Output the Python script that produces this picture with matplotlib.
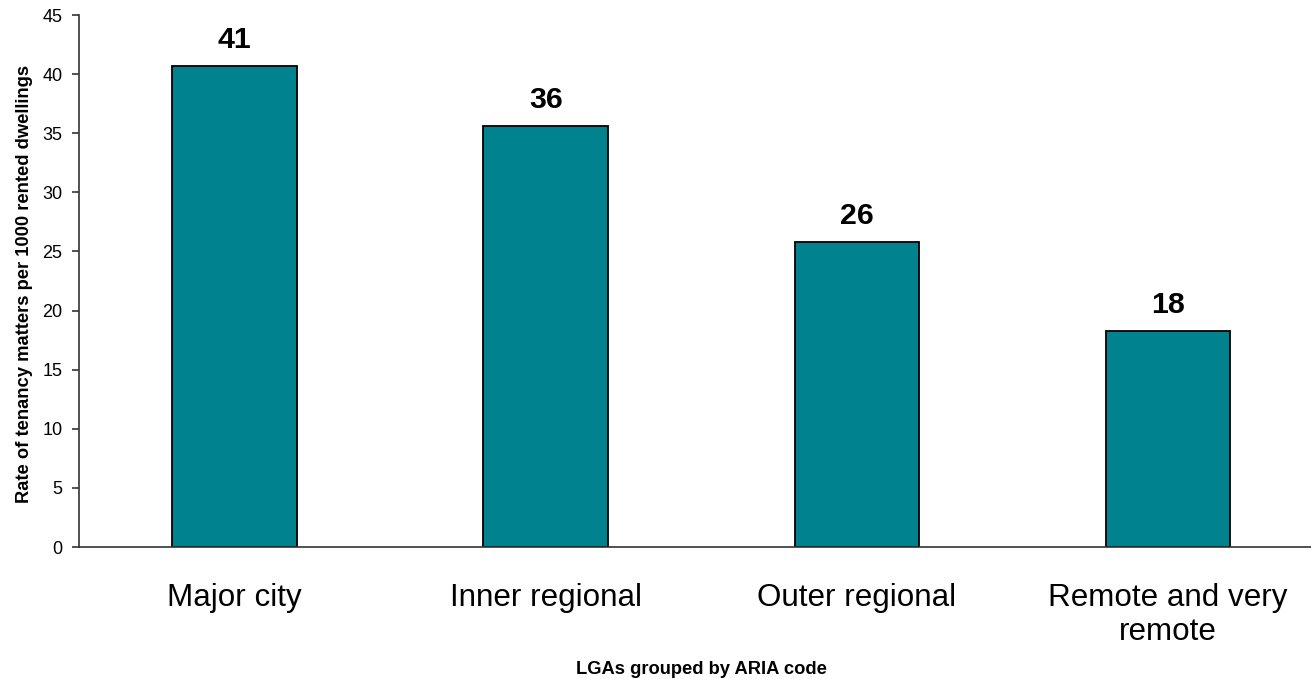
import matplotlib
matplotlib.use("Agg")
import matplotlib.pyplot as plt

categories = ["Major city", "Inner regional", "Outer regional", "Remote and very\nremote"]
rates = [40.7, 35.6, 25.8, 18.3]
rate_labels = ["41", "36", "26", "18"]

plt.rcParams['font.family'] = ['Liberation Sans', 'DejaVu Sans']

fig = plt.figure(figsize=(13.11, 6.79), dpi=100)
ax = fig.add_axes([79 / 1311, 1 - 547 / 679, (1311 - 79) / 1311, (547 - 15) / 679])

x = range(len(categories))
bars = ax.bar(x, rates, width=0.4, color='#00828F', edgecolor='black', linewidth=1.3)

# valeurs au-dessus des barres
for rect, lab in zip(bars, rate_labels):
    ax.annotate(lab, (rect.get_x() + rect.get_width() / 2, rect.get_height()),
                xytext=(0, 12.7), textcoords='offset points',
                ha='center', va='baseline', fontsize=21.8, fontweight='bold')

ax.set_ylim(0, 45)
ax.set_xlim(-0.5, 3.46)
ax.set_yticks(range(0, 46, 5))
ax.set_xticks(list(x))
ax.set_xticklabels(categories, fontsize=22.6, linespacing=1.15)
ax.tick_params(axis='x', length=0, pad=26)
ax.tick_params(axis='y', labelsize=13, length=5, width=1.2, pad=7, color='#333333', direction='out')

for side in ['top', 'right']:
    ax.spines[side].set_visible(False)
for side in ['left', 'bottom']:
    ax.spines[side].set_color('#333333')
    ax.spines[side].set_linewidth(1.2)

ax.set_ylabel("Rate of tenancy matters per 1000 rented dwellings", fontsize=13.2, fontweight='bold')
ax.yaxis.set_label_coords(-0.0375, 0.495)
fig.text(701.5 / 1311, 1 - 674 / 679, "LGAs grouped by ARIA code", ha='center', va='baseline',
         fontsize=13.2, fontweight='bold')

fig.savefig("out.png", dpi=100)
